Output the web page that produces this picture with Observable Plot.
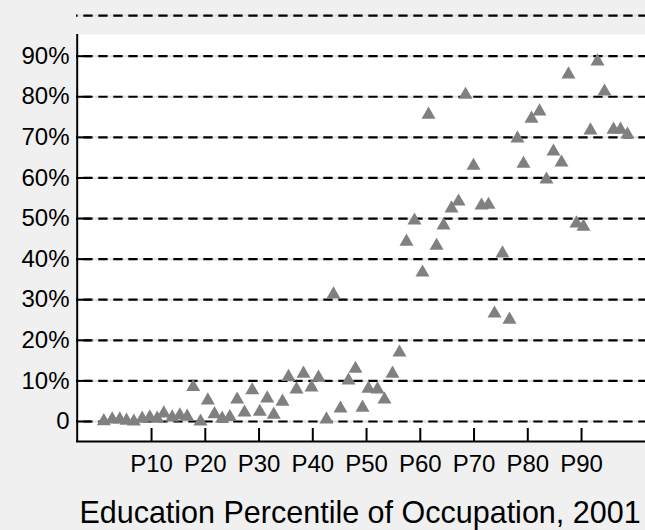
<!DOCTYPE html>
<html><head><meta charset="utf-8">
<script src="https://cdn.jsdelivr.net/npm/d3@7"></script>
<script src="https://cdn.jsdelivr.net/npm/@observablehq/plot@0.6"></script>
<style>html,body{margin:0;padding:0;background:#f0f0f0;} #chart{width:645px;height:530px;overflow:hidden}</style>
</head><body><div id="chart"></div>
<script>
// Education percentile of each occupation (x) and share value in % (y)
const percentile = [1.12,2.68,4.09,5.34,6.70,8.26,9.67,11.05,12.28,13.84,15.26,16.63,17.75,19.11,20.47,21.71,23.14,24.56,25.93,27.29,28.73,30.14,31.52,32.74,34.36,35.48,36.97,38.27,39.76,41.06,42.55,43.85,45.15,46.64,47.94,49.25,50.36,52.04,53.34,54.83,56.13,57.43,58.92,60.41,61.53,63.03,64.33,65.81,67.12,68.42,69.90,71.39,72.69,73.81,75.29,76.60,78.08,79.20,80.69,82.18,83.48,84.78,86.27,87.57,89.06,90.36,91.66,92.97,94.27,95.95,97.25,98.55];
const share = [0.1,0.5,0.5,0.2,0,0.7,1.0,0.7,2.0,1.0,1.5,1.2,8.5,0,5.2,1.8,0.7,1.1,5.4,2.2,7.7,2.4,5.7,1.7,4.9,11,7.9,11.8,8.4,10.8,0.5,31.3,3.2,10.1,13,3.4,8.1,7.9,5.4,11.8,17,44.3,49.5,36.7,75.6,43.3,48.3,52.5,54.2,80.5,63,53.2,53.4,26.6,41.4,25.1,69.7,63.5,74.6,76.4,59.6,66.5,63.8,85.5,48.8,48,71.7,88.7,81.3,71.9,71.9,70.7];
const xTicks = [10,20,30,40,50,60,70,80,90];
const xTickLabels = ["P10","P20","P30","P40","P50","P60","P70","P80","P90"];
const yTicks = [0,10,20,30,40,50,60,70,80,90];
const yTickLabels = ["0","10%","20%","30%","40%","50%","60%","70%","80%","90%"];
const gridValues = [0,10,20,30,40,50,60,70,80,90,100];
const xTitle = "Education Percentile of Occupation, 2001";
const xDomain = [-3.963, 101.9];
const yDomain = [-4.93, 95.34];

const data = percentile.map((p, i) => ({p, v: share[i]}));

const chart = Plot.plot({
  width: 645, height: 530,
  marginLeft: 76, marginRight: 0, marginTop: 34, marginBottom: 89,
  style: {background: "#f0f0f0", fontFamily: "'Liberation Sans', Arial, sans-serif", fontSize: "24px", color: "black"},
  x: {domain: xDomain, label: null},
  y: {domain: yDomain, label: null},
  marks: [
    Plot.frame({fill: "white", stroke: null}),
    Plot.ruleY(gridValues, {stroke: "#e2e2e2", strokeWidth: 2}),
    Plot.ruleY(gridValues, {stroke: "black", strokeWidth: 2.2, strokeDasharray: "9.3,5.7", strokeDashoffset: 7.7}),
    Plot.ruleY(yTicks, {stroke: "black", strokeWidth: 2, insetRight: 554}),
    Plot.ruleX(xTicks, {stroke: "black", strokeWidth: 2, insetTop: 394}),
    Plot.ruleX([xDomain[0]], {stroke: "black", strokeWidth: 2, dx: 0.7}),
    Plot.ruleY([yDomain[0]], {stroke: "black", strokeWidth: 2}),
    Plot.axisY({ticks: yTicks, tickSize: 0, tickPadding: 7, label: null,
      tickFormat: d => yTickLabels[yTicks.indexOf(d)]}),
    Plot.axisX({ticks: xTicks, tickSize: 0, tickPadding: 13, label: null,
      tickFormat: d => xTickLabels[xTicks.indexOf(d)]}),
    Plot.dot(data, {x: "p", y: "v", symbol: "triangle", r: 5.2, fill: "#808080", stroke: null}),
    Plot.text([xTitle], {frameAnchor: "bottom", lineAnchor: "bottom", dx: -1, dy: 81, fontSize: 30.5})
  ]
});
document.getElementById("chart").appendChild(chart);
</script>
</body></html>
